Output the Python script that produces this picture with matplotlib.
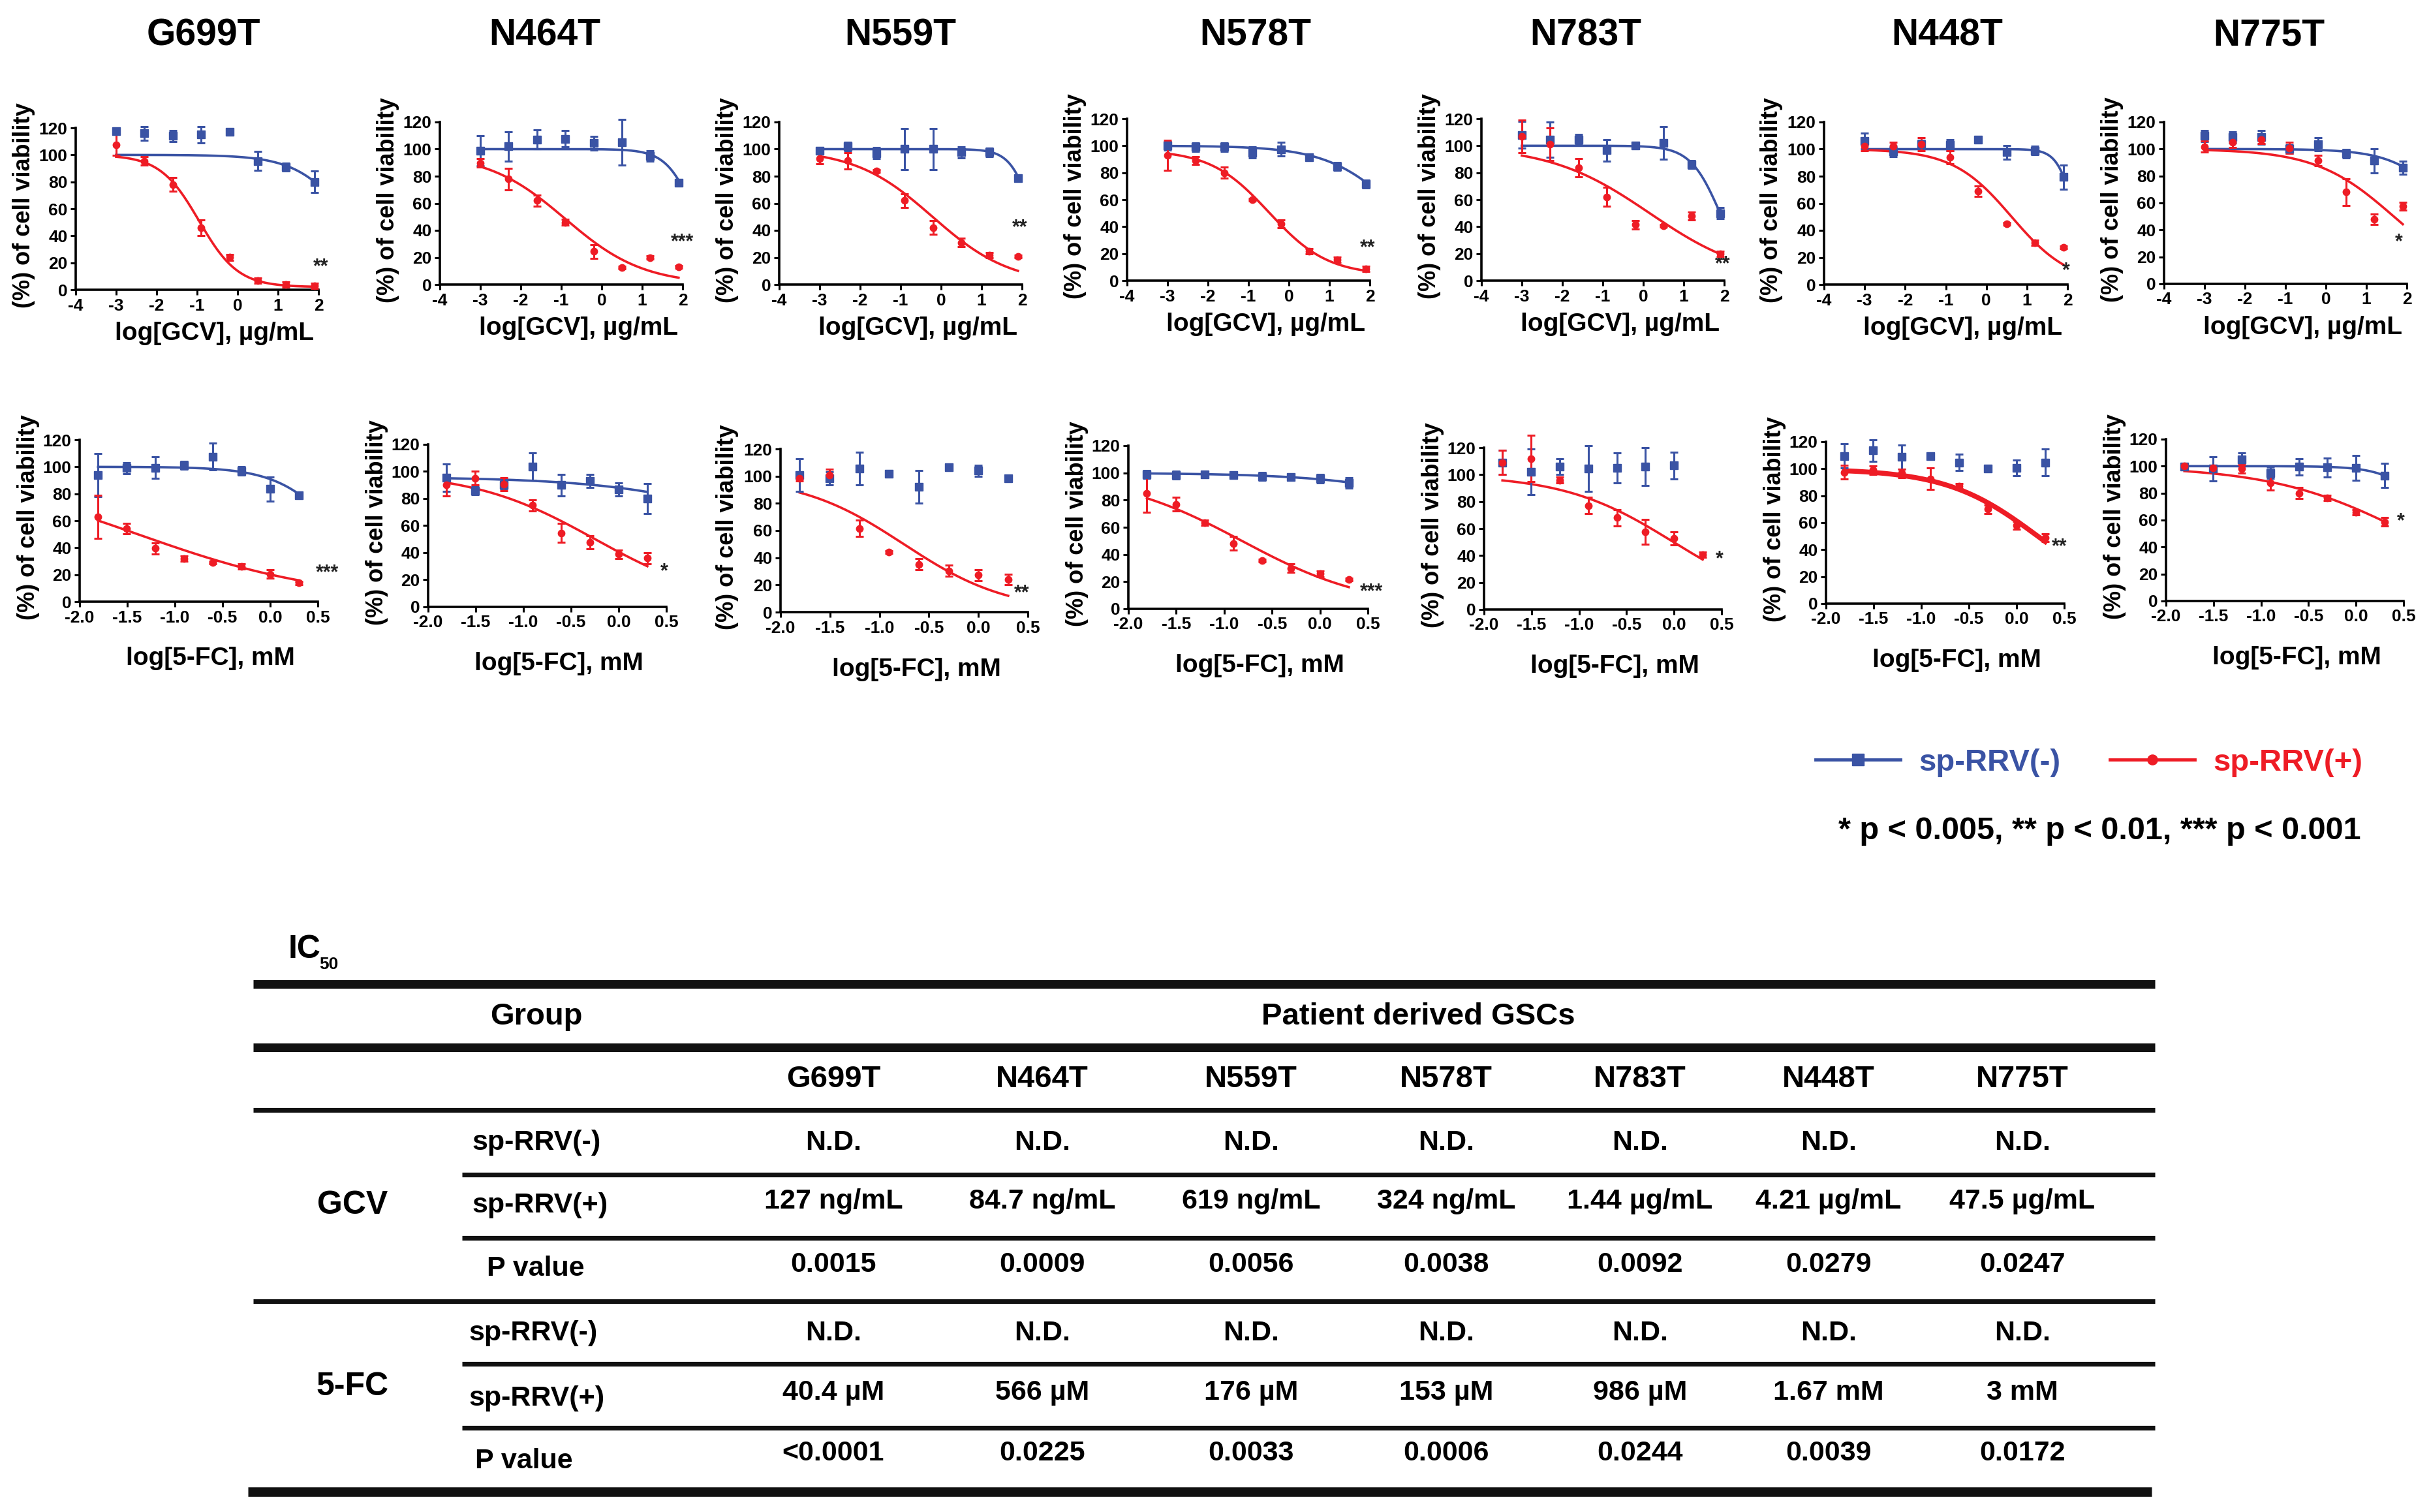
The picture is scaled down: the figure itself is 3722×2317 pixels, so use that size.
import numpy as np
import matplotlib
matplotlib.use("Agg")
import matplotlib.pyplot as plt
from matplotlib.lines import Line2D

plt.rcParams["font.family"] = ["Liberation Sans", "DejaVu Sans"]
plt.rcParams["font.weight"] = "bold"
plt.rcParams["axes.unicode_minus"] = False

# ---------------- data ----------------
CELL_LINES = ["G699T", "N464T", "N559T", "N578T", "N783T", "N448T", "N775T"]

GCV_X = [-3.0, -2.3, -1.6, -0.9, -0.2, 0.5, 1.2, 1.9]
FC_X = [-1.806, -1.505, -1.204, -0.903, -0.602, -0.301, 0.0, 0.301]

# GCV, sp-RRV(-)
GCV_NEG = [
    [117.6, 116, 114, 115, 117, 95.5, 91, 80],
    [98.8, 102, 107, 107.5, 104.5, 105, 95, 75],
    [99, 102, 97, 100, 100, 97.6, 97.6, 78.6],
    [100, 99, 99, 95, 97.5, 91.5, 84.6, 71.6],
    [108, 104.5, 104.5, 96.7, 100, 102, 86, 50],
    [106, 98.4, 103.6, 103, 107, 97.6, 99, 79.4],
    [109.6, 108.7, 108.7, 100, 103.5, 96.6, 91.4, 86.2],
]
GCV_NEG_ERR = [
    [2, 5, 4, 6, 1, 7, 3, 8],
    [11, 11, 7, 6, 5, 17, 4, 2],
    [2, 3, 4, 15, 15, 4, 3, 1],
    [3, 3, 3, 4, 5, 2, 3, 3],
    [10, 13, 4, 8, 1, 12, 3, 4],
    [6, 4, 3, 4, 1, 5, 3, 9],
    [4, 4, 5, 3, 5, 3, 9, 5],
]
# GCV, sp-RRV(+)
GCV_POS = [
    [107.6, 95.5, 78, 46, 24, 6.6, 4, 3],
    [89.8, 78, 62, 46, 24.4, 12.4, 20, 13],
    [93, 91.5, 83.8, 62, 42, 31, 21.6, 20.7],
    [93, 89, 80, 60, 42, 21.6, 15.5, 8.6],
    [107, 101, 83.7, 62, 41.4, 40.6, 48, 19.8],
    [102, 102, 103.6, 94, 69, 45, 31, 27.6],
    [101.8, 105, 106.9, 100.8, 91.4, 68, 48, 57.7],
]
GCV_POS_ERR = [
    [8, 3, 5, 6, 2, 2, 2, 2],
    [3, 8, 4, 2, 5, 1, 1, 1],
    [4, 6, 1, 5, 5, 3, 2, 1],
    [11, 3, 4, 1, 3, 2, 2, 2],
    [12, 12, 7, 7, 3, 1, 3, 2],
    [3, 3, 5, 5, 4, 1, 2, 1],
    [4, 4, 3, 4, 4, 10, 4, 3],
]

# 5-FC, sp-RRV(-)
FC_NEG = [
    [94, 99, 99.3, 101, 107.6, 97, 83.5, 79],
    [95.5, 86, 90, 103.5, 90, 93, 86.7, 80],
    [101, 98.4, 105.6, 102, 92, 106.4, 104, 98.4],
    [99, 98.3, 99, 98.3, 97.5, 97, 95.8, 92.6],
    [109, 102, 106, 104.4, 105, 106, 106.8, np.nan],
    [109.5, 113.6, 108.7, 109.5, 104.7, 100, 100.6, 104.7],
    [99.5, 98, 105, 95, 99.5, 99, 98.7, 93],
]
FC_NEG_ERR = [
    [16, 4, 8, 3, 10, 3, 9, 2],
    [10, 3, 3, 10, 8, 5, 5, 11],
    [12, 5, 12, 2, 12, 2, 4, 1],
    [3, 3, 1, 2, 3, 2, 3, 4],
    [9, 17, 6, 17, 11, 14, 10, 0],
    [9, 8, 9, 2, 6, 2, 6, 10],
    [1, 9, 5, 4, 6, 7, 9, 9],
]
# 5-FC, sp-RRV(+)
FC_POS = [
    [63, 54.3, 39.5, 32, 29, 26, 20.5, 13.8],
    [90, 95, 90.6, 75, 54.5, 47.7, 38.8, 36],
    [98.4, 101, 61.6, 44.3, 35.2, 30.4, 27.2, 24],
    [85, 77, 63.4, 48.2, 35.4, 30, 25.7, 21.7],
    [109, 112, 96, 77, 68, 57.6, 52.7, 40.6],
    [97.5, 99, 96.6, 92.6, 87, 70, 58, 49],
    [100.3, 98.7, 98, 87.4, 80, 76.5, 65.7, 58.7],
]
FC_POS_ERR = [
    [16, 4, 4, 2, 1, 2, 3, 1],
    [8, 5, 5, 4, 7, 5, 3, 4],
    [2, 4, 6, 1, 4, 4, 4, 4],
    [14, 5, 2, 5, 1, 3, 2, 1],
    [9, 17, 2, 6, 6, 9, 5, 2],
    [5, 3, 3, 8, 2, 3, 3, 3],
    [1, 2, 3, 5, 4, 2, 2, 3],
]

# fitted dose-response curves: (top, bottom, logIC50, hill), None = no fit shown
GCV_NEG_FIT = [(100, 0, 2.83, 0.65), (100, 0, 2.33, 1.22), (100, 0, 2.28, 1.57),
               (100, 0, 2.78, 0.49), (100, 0, 1.9, 1.18), (100, 0, 2.2, 2.0),
               (100, 0, 3.22, 0.625)]
GCV_POS_FIT = [(100, 2, -0.95, 0.9), (97, 0, -0.9, 0.45), (100, 0, -0.21, 0.45),
               (97, 4, -0.49, 0.6), (100, 0, 0.158, 0.35), (100, 0, 0.624, 0.6),
               (100, 0, 1.677, 0.45)]
FC_NEG_FIT = [(100, 0, 0.75, 1.33), (96, 0, 2.0, 0.52), None,
              (100, 0, 2.175, 0.6), None, None, (100, 0, 0.89, 1.9)]
FC_POS_FIT = [(100, 0, -1.39, 0.43), (100, 0, -0.247, 0.67), (100, 0, -0.754, 0.82),
              (100, 0, -0.815, 0.646), (100, 0, -0.006, 0.75), (100, 0, 0.223, 0.9),
              (100, 0, 0.56, 0.6)]

GCV_STARS = ["**", "***", "**", "**", "**", "*", "*"]
GCV_STAR_XY = [(2.06, 17), (2.0, 31), (1.95, 42), (1.94, 24), (1.97, 12), (1.96, 10), (1.81, 31)]
FC_STARS = ["***", "*", "**", "***", "*", "**", "*"]
FC_STAR_XY = [(0.6, 21), (0.48, 26), (0.44, 14), (0.54, 12.5), (0.48, 37), (0.45, 42), (0.47, 59)]

# IC50 table
GROUP_LABELS = ["sp-RRV(-)", "sp-RRV(+)", "P value"]
GCV_IC50_NEG = ["N.D."] * 7
GCV_IC50_POS = ["127 ng/mL", "84.7 ng/mL", "619 ng/mL", "324 ng/mL",
                "1.44 µg/mL", "4.21 µg/mL", "47.5 µg/mL"]
GCV_PVALUE = ["0.0015", "0.0009", "0.0056", "0.0038", "0.0092", "0.0279", "0.0247"]
FC_IC50_NEG = ["N.D."] * 7
FC_IC50_POS = ["40.4 µM", "566 µM", "176 µM", "153 µM", "986 µM", "1.67 mM", "3 mM"]
FC_PVALUE = ["<0.0001", "0.0225", "0.0033", "0.0006", "0.0244", "0.0039", "0.0172"]

# ---------------- layout (pixels of the 3723 x 2317 canvas) ----------------
W, H = 3723, 2317
BLUE = "#3A53A4"
RED = "#EE1C25"

ROW1_BOX = [(116, 488, 444, 196), (674, 1046, 436, 187), (1194, 1566, 436, 187),
            (1727, 2099, 430, 182), (2270, 2642, 430, 182), (2795, 3168, 436, 187),
            (3316, 3688, 435, 187)]
ROW2_BOX = [(122, 487, 922, 674), (656, 1021, 930, 681), (1196, 1575, 938, 688),
            (1729, 2096, 933, 683), (2274, 2638, 934, 686), (2798, 3163, 925, 677),
            (3319, 3683, 921, 673)]
TITLE_X = [312, 835, 1380, 1924, 2430, 2984, 3477]


def four_pl(x, top, bottom, logic50, hill):
    return bottom + (top - bottom) / (1 + 10 ** ((x - logic50) * hill))


def add_panel(fig, box, xs, neg, neg_err, pos, pos_err, neg_fit, pos_fit,
              star, star_xy, gcv, thick_fit=False):
    x0, x1, y0, y120 = box
    ax = fig.add_axes([x0 / W, 1 - y0 / H, (x1 - x0) / W, (y0 - y120) / H])
    xs = np.array(xs)

    for vals, errs, fit, color, marker, ms, lw in [
        (neg, neg_err, neg_fit, BLUE, "s", 8, 2.6),
        (pos, pos_err, pos_fit, RED, "o", 7.5, 5.5 if thick_fit else 2.6),
    ]:
        vals = np.array(vals, dtype=float)
        if fit is not None:
            xx = np.linspace(xs[0], xs[-1], 300)
            ax.plot(xx, four_pl(xx, *fit), color=color, lw=lw, clip_on=False, zorder=3)
        ax.errorbar(xs, vals, yerr=errs, fmt="none", ecolor=color, elinewidth=2.2,
                    capsize=4, capthick=2.2, clip_on=False, zorder=4)
        ax.plot(xs, vals, marker, color=color, ms=ms, clip_on=False, zorder=5)

    ax.text(star_xy[0], star_xy[1], star, ha="center", va="center",
            fontsize=22, color="#222222", clip_on=False)

    ax.set_ylim(0, 120)
    ax.set_yticks(range(0, 121, 20))
    if gcv:
        ax.set_xlim(-4, 2)
        ax.set_xticks(range(-4, 3))
        ax.set_xlabel("log[GCV], µg/mL", fontsize=28, fontweight="bold")
        ax.xaxis.set_label_coords(0.57, -0.27)
    else:
        ax.set_xlim(-2, 0.5)
        ax.set_xticks(np.arange(-2.0, 0.51, 0.5))
        ax.set_xticklabels([f"{t:.1f}" for t in np.arange(-2.0, 0.51, 0.5)])
        ax.set_xlabel("log[5-FC], mM", fontsize=28, fontweight="bold")
        ax.xaxis.set_label_coords(0.55, -0.35)
    ax.xaxis.label.set_va("center")
    ax.set_ylabel("(%) of cell viability", fontsize=26, fontweight="bold")
    ax.yaxis.set_label_coords(-0.215, 0.52)
    ax.yaxis.label.set_va("center")

    for side in ["top", "right"]:
        ax.spines[side].set_visible(False)
    for side in ["left", "bottom"]:
        ax.spines[side].set_linewidth(2.6)
        ax.spines[side].set_color("black")
    ax.tick_params(direction="out", length=6, width=2.2, labelsize=19, pad=3)
    ax.patch.set_alpha(0)
    return ax


def main():
    fig = plt.figure(figsize=(W / 100, H / 100), dpi=100)

    for i, name in enumerate(CELL_LINES):
        fig.text(TITLE_X[i] / W, 1 - 54 / H, name, ha="center", va="center",
                 fontsize=41, fontweight="bold")
        add_panel(fig, ROW1_BOX[i], GCV_X, GCV_NEG[i], GCV_NEG_ERR[i],
                  GCV_POS[i], GCV_POS_ERR[i], GCV_NEG_FIT[i], GCV_POS_FIT[i],
                  GCV_STARS[i], GCV_STAR_XY[i], True)
        add_panel(fig, ROW2_BOX[i], FC_X, FC_NEG[i], FC_NEG_ERR[i],
                  FC_POS[i], FC_POS_ERR[i], FC_NEG_FIT[i], FC_POS_FIT[i],
                  FC_STARS[i], FC_STAR_XY[i], False, thick_fit=(name == "N448T"))

    # legend and significance note
    handles = [
        Line2D([], [], color=BLUE, lw=3.5, marker="s", ms=13),
        Line2D([], [], color=RED, lw=3.5, marker="o", ms=11),
    ]
    fig.legend(handles, ["sp-RRV(-)", "sp-RRV(+)"], loc="center left",
               bbox_to_anchor=(2782 / W, 1 - 1169 / H), ncol=2, frameon=False,
               prop={"size": 34, "weight": "bold"}, handlelength=2.75,
               handletextpad=0.6, columnspacing=1.6, borderpad=0, borderaxespad=0,
               labelcolor="linecolor")
    fig.text(3217 / W, 1 - 1273 / H, "* p < 0.005, ** p < 0.01, *** p < 0.001",
             ha="center", va="center", fontsize=35, fontweight="bold")

    # IC50 table
    tab = fig.add_axes([0, 0, 1, 1])
    tab.set_xlim(0, W)
    tab.set_ylim(H, 0)
    tab.axis("off")

    thick, thin = 9.5, 5.2
    rules = [(1508, 388, 3302, thick), (1605, 388, 3302, thick), (1701, 388, 3302, thin),
             (1800, 708, 3302, thin), (1897, 708, 3302, thin), (1994, 388, 3302, thin),
             (2090, 708, 3302, thin), (2188, 708, 3302, thin), (2286, 380, 3297, 10.5)]
    for y, xa, xb, lw in rules:
        tab.plot([xa, xb], [y, y], color="#111111", lw=lw, solid_capstyle="butt")

    tab.text(442, 1455, "IC", ha="left", va="center", fontsize=36, fontweight="bold")
    tab.text(489, 1478, "50", ha="left", va="center", fontsize=19, fontweight="bold")
    tab.text(822, 1558, "Group", ha="center", va="center", fontsize=34, fontweight="bold")
    tab.text(2173, 1558, "Patient derived GSCs", ha="center", va="center",
             fontsize=34, fontweight="bold")

    col_x = [1277, 1597, 1917, 2216, 2513, 2802, 3099]
    for cx, name in zip(col_x, CELL_LINES):
        tab.text(cx, 1654, name, ha="center", va="center", fontsize=34, fontweight="bold")

    blocks = [
        ("GCV", 1847, [1751, 1841, 1938], [1751, 1847, 1944], [724, 724, 746],
         [GCV_IC50_NEG, GCV_IC50_POS, GCV_PVALUE]),
        ("5-FC", 2125, [2043, 2134, 2227], [2043, 2143, 2239], [719, 719, 728],
         [FC_IC50_NEG, FC_IC50_POS, FC_PVALUE]),
    ]
    for drug, dy, val_y, lab_y, lab_x, rows in blocks:
        tab.text(540, dy, drug, ha="center", va="center", fontsize=36, fontweight="bold")
        for label, ly, lx, vy, row in zip(GROUP_LABELS, lab_y, lab_x, val_y, rows):
            tab.text(lx, ly, label, ha="left", va="center", fontsize=31, fontweight="bold")
            for cx, val in zip(col_x, row):
                tab.text(cx, vy, val, ha="center", va="center", fontsize=31,
                         fontweight="bold")

    fig.savefig("out.png", dpi=100, facecolor="white")
    plt.close(fig)


if __name__ == "__main__":
    main()
